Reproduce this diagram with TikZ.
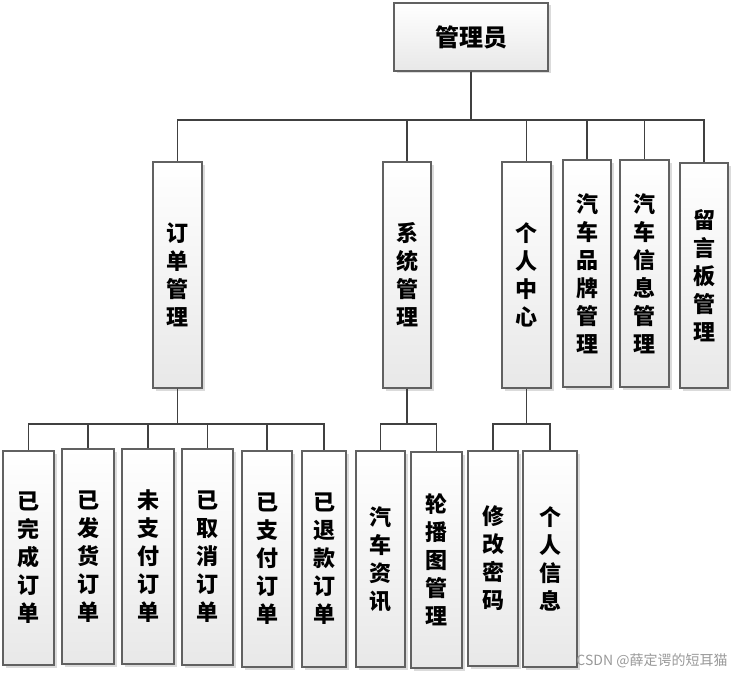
\documentclass[tikz,border=0pt]{standalone}
\usepackage{fontspec}
\usepackage{tikz}
\usetikzlibrary{shadows}
\newfontfamily\cjk{Noto Sans CJK SC}

\begin{document}
\begin{tikzpicture}[x=1pt,y=-1pt]
	\tikzstyle{every node}+=[inner sep=0pt]
	\tikzstyle{box}=[draw=black!62, line width=1.1pt, top color=white, bottom color=black!9, drop shadow={shadow xshift=2.5pt, shadow yshift=-2.5pt, fill=black!14, opacity=1}, align=center, font=\cjk\bfseries\fontsize{22}{28}\selectfont]
	\tikzstyle{link}=[draw=black!75, line width=1.7pt]
	\useasboundingbox (0,0) rectangle (735,674);
	\node[box, minimum width=154, minimum height=68, font=\cjk\bfseries\fontsize{24}{24}\selectfont] (admin) at (471,37) {管理员};
	\node[box, minimum width=49, minimum height=226] (order) at (177.5,275) {订\\单\\管\\理};
	\node[box, minimum width=48, minimum height=226] (sys) at (407,275) {系\\统\\管\\理};
	\node[box, minimum width=49, minimum height=226] (center) at (526.5,275) {个\\人\\中\\心};
	\node[box, minimum width=48, minimum height=227] (brand) at (587,273.5) {汽\\车\\品\\牌\\管\\理};
	\node[box, minimum width=49, minimum height=227] (car) at (644.5,273.5) {汽\\车\\信\\息\\管\\理};
	\node[box, minimum width=48, minimum height=225] (board) at (704,275.5) {留\\言\\板\\管\\理};
	\node[box, minimum width=51, minimum height=214] (done) at (28.5,558) {已\\完\\成\\订\\单};
	\node[box, minimum width=52, minimum height=215] (sent) at (88,556.5) {已\\发\\货\\订\\单};
	\node[box, minimum width=52, minimum height=215] (unpaid) at (148,556.5) {未\\支\\付\\订\\单};
	\node[box, minimum width=51, minimum height=216] (cancel) at (207.5,557) {已\\取\\消\\订\\单};
	\node[box, minimum width=50, minimum height=216] (paid) at (267,559) {已\\支\\付\\订\\单};
	\node[box, minimum width=44, minimum height=216] (refund) at (324,559) {已\\退\\款\\订\\单};
	\node[box, minimum width=49, minimum height=216] (news) at (380.5,559) {汽\\车\\资\\讯};
	\node[box, minimum width=51, minimum height=216] (slide) at (436.5,560) {轮\\播\\图\\管\\理};
	\node[box, minimum width=50, minimum height=215] (pwd) at (493,558.5) {修\\改\\密\\码};
	\node[box, minimum width=54, minimum height=216] (info) at (550,559) {个\\人\\信\\息};
	\node[font=\cjk\fontsize{14}{14}\selectfont, text=black!40] (mark) at (652,661) {CSDN @薛定谔的短耳猫};
	\coordinate (bus1) at (0,120);
	\coordinate (bus2) at (0,424);
	\foreach \n in {order,sys,center,brand,car,board}
		\draw[link] (admin.south) -- (admin.south |- bus1) -| (\n.north);
	\foreach \n in {done,sent,unpaid,cancel,paid,refund}
		\draw[link] (order.south) -- (order.south |- bus2) -| (\n.north);
	\foreach \n in {news,slide}
		\draw[link] (sys.south) -- (sys.south |- bus2) -| (\n.north);
	\foreach \n in {pwd,info}
		\draw[link] (center.south) -- (center.south |- bus2) -| (\n.north);
\end{tikzpicture}
\end{document}
